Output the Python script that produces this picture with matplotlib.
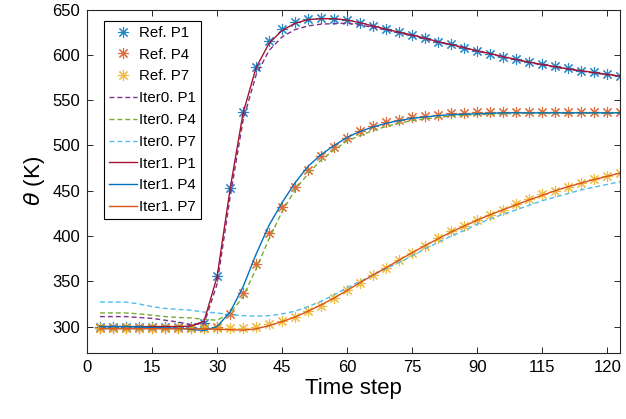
import matplotlib
matplotlib.use("Agg")
import matplotlib.pyplot as plt

plt.rcParams['font.family'] = ['Liberation Sans', 'DejaVu Sans']
plt.rcParams['mathtext.fontset'] = 'dejavusans'

# time steps (markers every 3 steps)
steps = list(range(3, 124, 3))

ref_p1 = [299, 299, 299, 299, 299, 299, 299, 299,
          304, 356, 453, 537, 587, 615, 629, 636.5, 640, 640.5, 640, 638.5,
          635.5, 632, 628.5, 625, 622, 618.5, 614.5, 611.5, 608, 604.5, 601.5,
          598, 595, 592, 589.5, 587.5, 585, 582.5, 581, 579, 576.5]
ref_p4 = [298.5] * 9 + [
          299, 313.5, 337, 369, 403, 432, 454.5, 473, 488, 498, 508.5, 516,
          521, 525.5, 528, 531, 532.5, 534, 535.5, 536, 536.5,
          536.5, 536.5, 536.5, 536.5, 536.5, 536.5, 536.5, 536.5, 536.5, 536.5, 536.5]
ref_p7 = [298.5] * 12 + [
          299.5, 303, 306.5, 311, 317, 323, 331, 340, 348.5, 357, 364.5, 373.5,
          381, 389.5, 397.5, 405, 411, 418, 423.5, 429, 435, 440.5, 446, 450,
          454.5, 458, 462.5, 466.5, 470]

iter0_p1 = [311, 311, 311, 310, 309, 307, 305, 302,
            303, 347, 443, 528, 578, 605, 620, 628, 632, 634, 634.5, 635,
            633, 630.5, 627.5, 624.5, 621, 617.5, 614, 611, 607.5, 604, 601,
            597.5, 594.5, 591.5, 589, 586.5, 584, 582, 580, 578, 576.5]
iter0_p4 = [315, 315, 315, 314, 312.5, 311, 310, 309.5, 308, 307,
            314.5, 333, 364, 397, 427, 451, 469, 484, 495, 505, 511, 516.5,
            521, 524.5, 527.5, 529.5, 531, 532.5, 533.5, 534,
            534.5, 535, 535.5, 535.5, 535.5, 535.5, 535.5, 535.5, 535.5, 535.5, 535.5]
iter0_p7 = [327, 327, 327, 325, 322, 320, 319, 318, 316, 315, 313, 312,
            311.5, 312, 314, 317, 322, 328, 335, 343, 350, 357, 364, 371,
            378, 386, 393, 400, 406, 413, 419, 424, 429, 434, 439, 443,
            447, 451, 454, 457, 460]

iter1_p1 = [300, 300, 300, 300, 300, 300, 300, 300.5,
            306, 355, 452, 536, 586, 613, 627, 635, 639, 640, 640, 638.5,
            635.5, 632, 628.5, 625, 622, 618.5, 614.5, 611.5, 608, 604.5, 601.5,
            598, 595, 592, 589.5, 587, 584.5, 582.5, 580.5, 578.5, 576.5]
iter1_p4 = [300, 300, 300, 299.5, 299, 298.5, 298, 297, 295.5,
            300, 316, 344, 380, 412, 437, 459, 477, 490, 500, 509, 515.5,
            520.5, 524.5, 527.5, 530, 531.5, 533, 534, 534.5, 535,
            535.5, 536, 536, 536, 536, 536, 536, 536, 536, 536, 536]
iter1_p7 = [297.5] * 9 + [
            297, 296.5, 296,
            297.5, 301, 305.5, 310.5, 317, 324, 331.5, 340, 348.5, 357, 365,
            373.5, 381.5, 389.5, 397, 404.5, 411, 417.5, 423.5, 429, 434.5,
            440, 445, 450, 454.5, 458.5, 462.5, 466, 469.5]

xticks = [0, 15, 30, 45, 60, 75, 90, 105, 120]
xtick_labels = ['0', '15', '30', '45', '60', '75', '90', '115', '120']
yticks = [300, 350, 400, 450, 500, 550, 600, 650]

blue, orange, yellow = '#0072BD', '#D95319', '#EDB120'
purple, green, cyan, darkred = '#7E2F8E', '#77AC30', '#4DBEEE', '#A2142F'

fig = plt.figure(figsize=(6.26, 4.19), dpi=100)
ax = fig.add_axes([0.139, 0.158, 0.852, 0.819])

star = (8, 2, 0)
mk = dict(linestyle='none', marker=star, markersize=8, markeredgewidth=0.8, alpha=0.85)
ax.plot(steps, ref_p1, color=blue, label='Ref. P1', **mk)
ax.plot(steps, ref_p4, color=orange, label='Ref. P4', **mk)
ax.plot(steps, ref_p7, color=yellow, label='Ref. P7', **mk)

dash = (0, (3.5, 2.2))
ax.plot(steps, iter0_p1, color=purple, lw=1, linestyle=dash, label='Iter0. P1')
ax.plot(steps, iter0_p4, color=green, lw=1, linestyle=dash, label='Iter0. P4')
ax.plot(steps, iter0_p7, color=cyan, lw=1, linestyle=dash, label='Iter0. P7')

ax.plot(steps, iter1_p1, color=darkred, lw=1, label='Iter1. P1')
ax.plot(steps, iter1_p4, color=blue, lw=1, label='Iter1. P4')
ax.plot(steps, iter1_p7, color=orange, lw=1, label='Iter1. P7')

ax.set_xlim(0, 123)
ax.set_ylim(271, 650)
ax.set_xticks(xticks)
ax.set_xticklabels(xtick_labels)
ax.set_yticks(yticks)
ax.tick_params(direction='in', top=True, right=True, length=4, width=0.7,
               labelsize=12, color='#262626', labelcolor='black', pad=5)
for s in ax.spines.values():
    s.set_color('#262626')
    s.set_linewidth(0.8)

ax.set_xlabel('Time step', fontsize=16, labelpad=2)
ax.set_ylabel(r'$\theta$ (K)', fontsize=16, labelpad=4)

leg = ax.legend(loc='upper left', bbox_to_anchor=(0.032, 0.966), borderaxespad=0,
                fontsize=10.8, frameon=True, fancybox=False, framealpha=1,
                edgecolor='black', borderpad=0.3, labelspacing=0.52,
                handlelength=1.9, handletextpad=0.15, numpoints=1)
leg.get_frame().set_linewidth(0.8)

fig.savefig('out.png', dpi=100)
